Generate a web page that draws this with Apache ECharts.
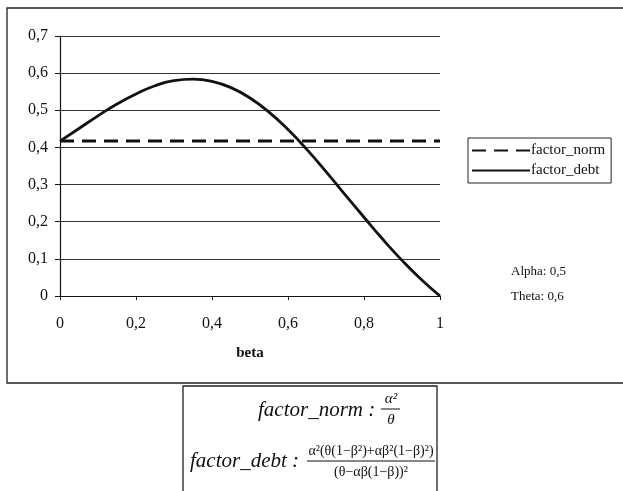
<!DOCTYPE html>
<html><head><meta charset="utf-8">
<script src="https://cdn.jsdelivr.net/npm/echarts@6/dist/echarts.min.js"></script>
<style>html,body{margin:0;padding:0;background:#fff}#c{width:623px;height:491px}</style>
</head><body><div id="c"></div>
<script>
const betaValues = [0,0.05,0.1,0.15,0.2,0.25,0.3,0.35,0.4,0.45,0.5,0.55,0.6,0.65,0.7,0.75,0.8,0.85,0.9,0.95,1];
const factorDebt = [0.417,0.451,0.485,0.517,0.544,0.566,0.580,0.584,0.578,0.561,0.533,0.495,0.448,0.394,0.335,0.273,0.212,0.152,0.096,0.045,0];
const factorNormBeta = [0,1];
const factorNorm = [0.417,0.417];
const xTicks = [0,0.2,0.4,0.6,0.8,1];
const yTicks = [0,0.1,0.2,0.3,0.4,0.5,0.6,0.7];
const seriesNames = ['factor_norm','factor_debt'];
const paramLabels = ['Alpha: 0,5','Theta: 0,6'];
const xTitle = 'beta';

const fmt = v => String(Math.round(v*10)/10).replace('.', ',');
const serif = '"Liberation Serif", "DejaVu Serif", serif';
const chart = echarts.init(document.getElementById('c'), null, {renderer:'canvas'});
chart.setOption({
  animation:false,
  backgroundColor:'#fff',
  grid:{left:60,right:183,top:36,bottom:195},
  xAxis:{type:'value',min:0,max:1,interval:0.2,
    name:xTitle,nameLocation:'middle',nameGap:50,
    nameTextStyle:{fontFamily:serif,fontWeight:'bold',fontSize:15,color:'#111'},
    axisLine:{lineStyle:{color:'#111',width:1.2}},
    axisTick:{show:true,inside:false,length:4,lineStyle:{color:'#111'}},
    axisLabel:{formatter:fmt,fontFamily:serif,fontSize:16,color:'#111',margin:20},
    splitLine:{show:false}},
  yAxis:{type:'value',min:0,max:0.7,interval:0.1,
    axisLine:{show:true,lineStyle:{color:'#111',width:1.2}},
    axisTick:{show:true,length:5,lineStyle:{color:'#111'}},
    axisLabel:{formatter:fmt,fontFamily:serif,fontSize:16,color:'#111',margin:12},
    splitLine:{show:true,lineStyle:{color:'#333',width:1}}},
  legend:{orient:'vertical',left:468,top:138,width:145,
    data:seriesNames,itemWidth:58,itemHeight:12,itemGap:5,
    padding:[5,6,5,3],borderColor:'#222',borderWidth:1,
    itemStyle:{opacity:0},
    textStyle:{fontFamily:serif,fontSize:15,color:'#111',padding:[0,0,0,-4]}},
  series:[
    {name:seriesNames[0],type:'line',symbol:'none',
     data:factorNormBeta.map((b,i)=>[b,factorNorm[i]]),
     lineStyle:{color:'#111',width:3,type:[14,8]},itemStyle:{color:'#111'}},
    {name:seriesNames[1],type:'line',symbol:'none',smooth:true,
     data:betaValues.map((b,i)=>[b,factorDebt[i]]),
     lineStyle:{color:'#111',width:2.8},itemStyle:{color:'#111'}}
  ],
  graphic:[
    {type:'rect',shape:{x:7,y:8,width:700,height:375},style:{fill:'none',stroke:'#222',lineWidth:1.3},silent:true,z:-1},
    {type:'text',left:511,top:265,style:{text:paramLabels[0],font:'13px '+serif,fill:'#111'}},
    {type:'text',left:511,top:290,style:{text:paramLabels[1],font:'13px '+serif,fill:'#111'}},
    {type:'rect',shape:{x:183,y:386,width:254,height:110},style:{fill:'#fff',stroke:'#222',lineWidth:1.3}},
    {type:'text',x:258,y:410,style:{text:'factor_norm :',font:'italic 21px '+serif,fill:'#111',textVerticalAlign:'middle'}},
    {type:'text',x:391,y:399,style:{text:'α²',font:'italic 15px '+serif,fill:'#111',textAlign:'center',textVerticalAlign:'middle'}},
    {type:'line',shape:{x1:381,y1:409,x2:400,y2:409},style:{stroke:'#111',lineWidth:1}},
    {type:'text',x:391,y:420,style:{text:'θ',font:'italic 15px '+serif,fill:'#111',textAlign:'center',textVerticalAlign:'middle'}},
    {type:'text',x:190,y:461,style:{text:'factor_debt :',font:'italic 21px '+serif,fill:'#111',textVerticalAlign:'middle'}},
    {type:'text',x:371,y:451,style:{text:'α²(θ(1−β²)+αβ²(1−β)²)',font:'14px '+serif,fill:'#111',textAlign:'center',textVerticalAlign:'middle'}},
    {type:'line',shape:{x1:307,y1:461,x2:435,y2:461},style:{stroke:'#111',lineWidth:1}},
    {type:'text',x:371,y:472,style:{text:'(θ−αβ(1−β))²',font:'14px '+serif,fill:'#111',textAlign:'center',textVerticalAlign:'middle'}}
  ]
});
</script></body></html>
